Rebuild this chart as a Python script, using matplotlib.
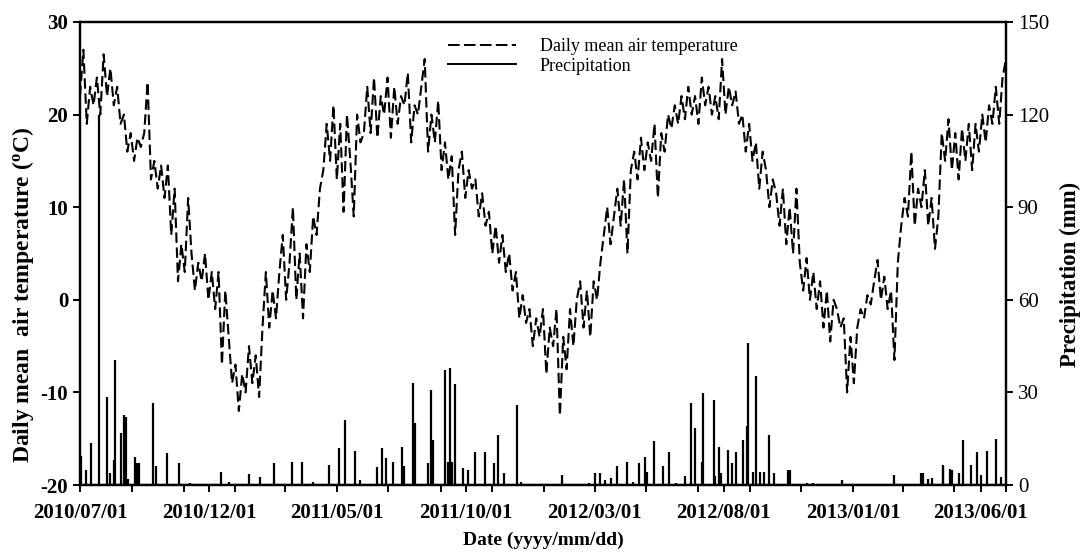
import pandas as pd
import matplotlib
matplotlib.use("Agg")
import matplotlib.pyplot as plt
import matplotlib.dates as mdates
from matplotlib.lines import Line2D

plt.rcParams["font.family"] = "Liberation Serif"
plt.rcParams["axes.unicode_minus"] = False

# daily mean air temperature, read every 4 days from 2010/07/01
temp_dates = pd.date_range("2010-07-01", "2013-07-01", freq="4D")
temp = [
    22, 27, 19, 23, 21, 24, 20, 26.5, 22, 25,
    21, 23, 19, 20, 16, 18, 15, 17.5, 16.5, 18,
    23.5, 13, 15, 12, 14.5, 11, 14.5, 7, 12, 2,
    6, 3, 11, 5, 1, 4, 2, 5, 0, 3,
    -1, 3, -7, 1, -4, -9, -7, -12, -8, -10,
    -5, -9, -6, -10.5, -3, 3, -3, 1, -2, 3,
    7, 0, 4, 10, 0, 5, -2, 6, 3, 9,
    7, 12, 14, 19, 15, 21, 13, 19, 9.5, 20,
    15, 9, 20, 17, 18, 23, 18, 24, 17.5, 22,
    20, 24, 17.5, 23, 19, 22, 21, 24.5, 17, 21,
    20, 23, 26, 16, 20, 17, 21.5, 14, 17, 13,
    15.5, 7, 14, 16, 11, 14, 12, 13, 9, 11.5,
    8, 9.5, 5, 8, 4, 7, 3, 5, 1, 3,
    -2, 0.5, -2.5, -1, -5, -2, -4, -1, -8, -3,
    -5, -1, -12.5, -4, -7.5, -1, -5, 0, 2, -3,
    1, -4, 2, 0, 4, 7, 10, 6, 9, 12,
    8, 13, 5, 14, 16, 13, 17.5, 14, 17, 15,
    19, 11, 18, 16, 20, 18.5, 21, 19, 22, 19.5,
    23, 20, 22, 19, 24, 21, 23, 20, 22, 19.5,
    26, 20, 23, 21, 22.5, 19, 20, 16, 19, 15,
    17, 12, 16, 14, 10, 13, 11.5, 8, 12, 6,
    10, 5, 12, 4, 1, 4.5, 0, 3, -1, 2,
    -3, 1, -4.5, 0, -1, -3, -2, -10, -4, -9,
    -3, -1, -2, 0.5, -0.5, 2, 4.3, 0, 2.5, -1,
    1, -6.5, 4, 8, 11, 9, 16, 8, 12, 10,
    14, 8, 11, 5.5, 9, 18, 15, 19.5, 14, 18,
    13, 18.5, 15, 19, 14, 19, 16, 20, 17, 21,
    19, 23, 19, 24, 26,
]

# precipitation events (days after 2010/07/01, mm)
rain_day = [
    1, 7, 13, 23, 32, 36, 40, 42, 49, 52, 54, 57, 65, 67, 70, 86, 90, 103,
    117, 130, 167, 176, 200, 213, 230, 251, 263, 276, 295, 306, 314, 325,
    331, 352, 357, 362, 371, 381, 384, 394, 396, 412, 416, 418, 432, 435,
    438, 440, 444, 453, 459, 467, 479, 490, 495, 502, 517, 522, 570, 603,
    609, 616, 622, 629, 636, 647, 654, 662, 669, 671, 680, 690, 697, 705,
    716, 723, 728, 736, 737, 750, 752, 756, 759, 767, 772, 776, 785, 790,
    791, 797, 800, 805, 810, 815, 822, 838, 840, 860, 868, 902, 963, 995,
    998, 1004, 1008, 1021, 1022, 1030, 1032, 1041, 1045, 1055, 1062, 1066,
    1073, 1084, 1090,
]
rain = [
    9.5, 5, 13.5, 120, 28.6, 4, 8, 40.5, 16.7, 22.7, 22, 2, 9, 7, 7, 26.5,
    6, 10.5, 7, 0.5, 4.3, 1, 3.5, 2.7, 7, 7.5, 7.5, 1, 6.5, 12, 21, 11,
    1.6, 5.7, 12, 8.6, 7.5, 12.4, 6, 33, 20, 7, 30.8, 14.6, 37.3, 7.5,
    37.8, 7.5, 32.7, 5.4, 5, 10.8, 10.8, 7, 16.2, 3.8, 26, 1, 3.2, 0.8,
    3.8, 4, 1.6, 2.2, 6, 7.5, 1, 7, 9.2, 4.3, 14.4, 6.2, 10.6, 0.8,
    3, 26.5, 18.4, 7.5, 29.7, 27.5, 3, 12.4, 3.8, 11.3, 7, 10.8, 14.6, 19,
    46, 4.3, 35.3, 4.3, 4.3, 16.2, 3.8, 5, 5, 0.8, 0.5, 1.6, 3.3, 4,
    3.8, 2, 2.2, 6.6, 6.2, 5.2, 5, 3.8, 14.5, 6.5, 10.8, 3.2,
    10.9, 15, 2.7,
]
rain_dates = pd.Timestamp("2010-07-01") + pd.to_timedelta(rain_day, unit="D")

major_ticks = ["2010/07/01", "2010/12/01", "2011/05/01", "2011/10/01",
               "2012/03/01", "2012/08/01", "2013/01/01", "2013/06/01"]

fig = plt.figure(figsize=(10.84, 5.58), dpi=100)
ax = fig.add_axes([0.0738, 0.1308, 0.8542, 0.8298])
ax2 = ax.twinx()

ax.plot(temp_dates, temp, color="black", lw=1.5, dashes=(5, 2.2))
ax2.vlines(rain_dates, 0, rain, color="black", lw=1.6)
ax2.axhline(0, color="black", lw=1.6)

ax.set_xlim(pd.Timestamp("2010-07-01"), pd.Timestamp("2013-07-01"))
ax.set_ylim(-20, 30)
ax2.set_ylim(0, 150)
ax.set_yticks(range(-20, 31, 10))
ax2.set_yticks(range(0, 151, 30))

ax.set_xticks(pd.to_datetime(major_ticks))
ax.set_xticklabels(major_ticks)
ax.xaxis.set_minor_locator(mdates.MonthLocator(bymonth=[1, 3, 5, 7, 9, 11]))

for a in (ax, ax2):
    for s in a.spines.values():
        s.set_linewidth(1.6)
    a.tick_params(which="both", direction="out", width=1.4, length=5, labelsize=15)
ax.tick_params(axis="x", pad=8)
for lbl in ax.get_xticklabels() + ax.get_yticklabels():
    lbl.set_fontweight("bold")

ax.set_xlabel("Date (yyyy/mm/dd)", fontsize=14, fontweight="bold", labelpad=6)
ax.set_ylabel("Daily mean  air temperature ($\\mathregular{^oC}$)", fontsize=17,
              fontweight="bold")
ax2.set_ylabel("Precipitation (mm)", fontsize=16.5, fontweight="bold")
ax.yaxis.set_label_coords(-0.048, 0.41)
ax2.yaxis.set_label_coords(1.058, 0.455)

handles = [Line2D([], [], color="black", lw=1.4, dashes=(6, 2.2)),
           Line2D([], [], color="black", lw=1.4)]
ax.legend(handles, ["Daily mean air temperature", "Precipitation"],
          loc="upper left", bbox_to_anchor=(0.3875, 0.985), frameon=False,
          fontsize=13, handlelength=3.8, handletextpad=1.3,
          labelspacing=0.15, borderpad=0)

fig.savefig("out.png", dpi=100)
